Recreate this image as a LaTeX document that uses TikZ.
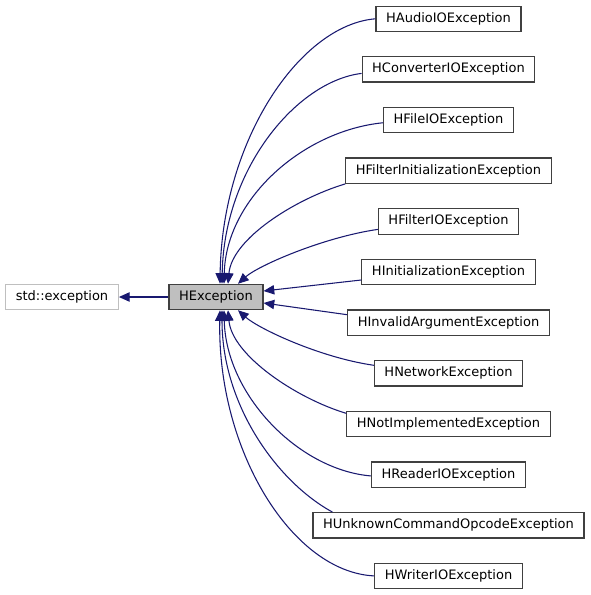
\documentclass[tikz,border=0pt]{standalone}
\usepackage{fontspec}
\setmainfont{DejaVu Sans}
\usepackage{tikz}
\usetikzlibrary{arrows.meta}

\definecolor{edgeblue}{HTML}{191970}
\definecolor{boxgrey}{HTML}{404040}
\definecolor{lightgrey}{HTML}{BFBFBF}

\begin{document}
\begin{tikzpicture}[x=0.75pt, y=-0.75pt,
  cls/.style={draw=boxgrey, line width=0.85pt, fill=white, rectangle, inner xsep=7.6pt, inner ysep=0pt, minimum height=19pt, font=\fontsize{9.75}{11}\selectfont},
  base/.style={cls, fill=lightgrey},
  ext/.style={cls, draw=lightgrey},
  edge/.style={draw=edgeblue, line width=0.8pt, -{Triangle[length=8pt, width=7pt]}, fill=none}]

\useasboundingbox (0,0) rectangle (591,595);

\node[ext] (std) at (62,297) {std::exception};
\node[base] (hx) at (216,297) {HException};

\node[cls] (audio) at (448.5,18.8) {HAudioIOException};
\node[cls] (conv) at (448.5,69.4) {HConverterIOException};
\node[cls] (file) at (448.5,120.1) {HFileIOException};
\node[cls] (finit) at (448.5,170.7) {HFilterInitializationException};
\node[cls] (fio) at (448.5,221.4) {HFilterIOException};
\node[cls] (init) at (448.5,272) {HInitializationException};
\node[cls] (inval) at (448.5,322.7) {HInvalidArgumentException};
\node[cls] (net) at (448.5,373.3) {HNetworkException};
\node[cls] (nimpl) at (448.5,424) {HNotImplementedException};
\node[cls] (reader) at (448.5,474.6) {HReaderIOException};
\node[cls] (unk) at (448.5,525.3) {HUnknownCommandOpcodeException};
\node[cls] (writer) at (448.5,575.9) {HWriterIOException};

\draw[edge] (hx.west) -- (std.east);

\draw[edge] (audio.west) .. controls +(-75,6) and +(2,-144) .. ([xshift=3pt]hx.north);
\draw[edge] ([yshift=-3pt]conv.west) .. controls +(-65,8) and +(2,-115) .. ([xshift=4.5pt]hx.north);
\draw[edge] ([yshift=-2pt]file.west) .. controls +(-80,8) and +(2,-85) .. ([xshift=6pt]hx.north);
\draw[edge] (finit.south west) .. controls +(-50,15) and +(4,-45) .. ([xshift=9pt]hx.north);
\draw[edge] ([yshift=-6pt]fio.west) .. controls +(-55,8) and +(20,-18) .. ([xshift=16.5pt]hx.north);
\draw[edge] ([yshift=-6pt]init.west) -- ([yshift=4.5pt]hx.east);
\draw[edge] ([yshift=6pt]inval.west) -- ([yshift=-4.5pt]hx.east);
\draw[edge] ([yshift=6pt]net.west) .. controls +(-55,-8) and +(20,18) .. ([xshift=16.5pt]hx.south);
\draw[edge] ([yshift=8pt]nimpl.west) .. controls +(-50,-15) and +(4,45) .. ([xshift=9pt]hx.south);
\draw[edge] ([yshift=-1pt]reader.west) .. controls +(-72,-6) and +(2,85) .. ([xshift=6pt]hx.south);
\draw[edge] ([xshift=15pt]unk.north west) .. controls +(-55,-30) and +(0,95) .. ([xshift=4.5pt]hx.south);
\draw[edge] (writer.west) .. controls +(-82,-4) and +(-3,140) .. ([xshift=3pt]hx.south);

\end{tikzpicture}
\end{document}
